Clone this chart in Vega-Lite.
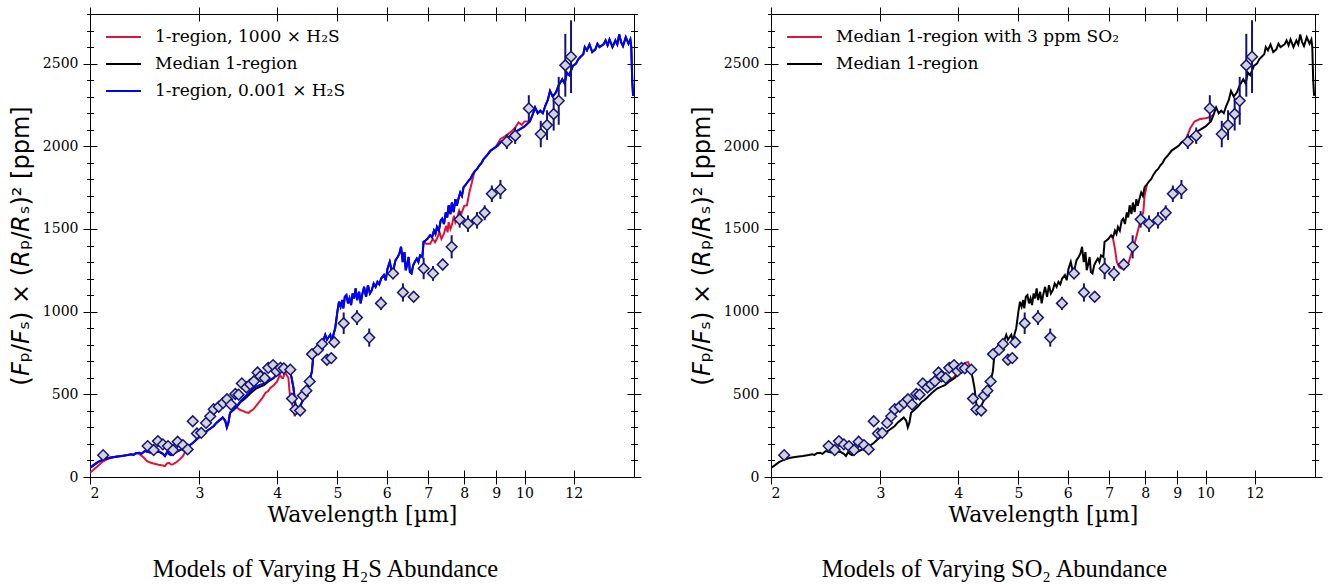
{
  "$schema": "https://vega.github.io/schema/vega-lite/v6.json",
  "background": "white",
  "padding": {"left": 8, "top": 6, "right": 5, "bottom": 5},
  "spacing": 47,
  "config": {
    "view": {"stroke": "black", "strokeWidth": 1},
    "axis": {"domain": false, "grid": false, "tickColor": "black", "tickWidth": 1, "labelFont": "DejaVu Serif", "labelFontSize": 14, "labelColor": "black", "titleColor": "black", "titleFontWeight": "normal"},
    "legend": {"orient": "top-left", "offset": 15, "padding": 0, "title": null, "symbolType": "stroke", "symbolSize": 1225, "symbolStrokeWidth": 2, "labelFont": "DejaVu Serif", "labelFontSize": 17, "labelColor": "black", "labelOffset": 13, "rowPadding": 10, "clipHeight": 16, "labelLimit": 500},
    "title": {"font": "Liberation Serif", "fontSize": 24.5, "fontWeight": "normal", "color": "black", "orient": "bottom", "offset": 33, "frame": "bounds", "anchor": "middle"}
  },
  "datasets": {
    "median": [
      {"w":2.0,"f":55},{"w":2.03,"f":72},{"w":2.06,"f":90},{"w":2.1,"f":105},{"w":2.15,"f":116},{"w":2.2,"f":122},{"w":2.25,"f":127},{"w":2.3,"f":133},{"w":2.33,"f":138},{"w":2.35,"f":134},{"w":2.37,"f":144},{"w":2.4,"f":147},{"w":2.42,"f":140},{"w":2.45,"f":157},{"w":2.49,"f":150},{"w":2.53,"f":146},{"w":2.56,"f":152},{"w":2.59,"f":151},{"w":2.62,"f":140},{"w":2.64,"f":127},{"w":2.66,"f":150},{"w":2.68,"f":140},{"w":2.7,"f":132},{"w":2.72,"f":137},{"w":2.75,"f":150},{"w":2.79,"f":163},{"w":2.82,"f":170},{"w":2.86,"f":177},{"w":2.9,"f":195},{"w":2.93,"f":207},{"w":2.97,"f":228},{"w":3.01,"f":247},{"w":3.05,"f":262},{"w":3.08,"f":277},{"w":3.12,"f":292},{"w":3.16,"f":307},{"w":3.2,"f":330},{"w":3.24,"f":347},{"w":3.27,"f":360},{"w":3.3,"f":340},{"w":3.32,"f":300},{"w":3.34,"f":330},{"w":3.36,"f":388},{"w":3.4,"f":405},{"w":3.45,"f":428},{"w":3.49,"f":452},{"w":3.53,"f":466},{"w":3.57,"f":482},{"w":3.62,"f":505},{"w":3.66,"f":520},{"w":3.7,"f":535},{"w":3.75,"f":545},{"w":3.81,"f":556},{"w":3.88,"f":580},{"w":3.95,"f":598},{"w":4.0,"f":625},{"w":4.04,"f":655},{"w":4.08,"f":665},{"w":4.11,"f":673},{"w":4.15,"f":662},{"w":4.19,"f":649},{"w":4.22,"f":600},{"w":4.25,"f":538},{"w":4.28,"f":440},{"w":4.3,"f":418},{"w":4.33,"f":420},{"w":4.36,"f":432},{"w":4.4,"f":465},{"w":4.43,"f":495},{"w":4.46,"f":518},{"w":4.5,"f":570},{"w":4.53,"f":610},{"w":4.55,"f":640},{"w":4.58,"f":759},{"w":4.61,"f":740},{"w":4.64,"f":779},{"w":4.67,"f":760},{"w":4.69,"f":819},{"w":4.72,"f":790},{"w":4.75,"f":830},{"w":4.78,"f":860},{"w":4.81,"f":830},{"w":4.84,"f":845},{"w":4.87,"f":860},{"w":4.9,"f":820},{"w":4.93,"f":865},{"w":4.96,"f":900},{"w":5.0,"f":1000},{"w":5.03,"f":1060},{"w":5.06,"f":1030},{"w":5.09,"f":1070},{"w":5.11,"f":1020},{"w":5.14,"f":1090},{"w":5.17,"f":1100},{"w":5.2,"f":1050},{"w":5.23,"f":1080},{"w":5.26,"f":1040},{"w":5.29,"f":1110},{"w":5.32,"f":1080},{"w":5.35,"f":1140},{"w":5.38,"f":1070},{"w":5.42,"f":1120},{"w":5.45,"f":1050},{"w":5.48,"f":1100},{"w":5.52,"f":1150},{"w":5.56,"f":1090},{"w":5.6,"f":1160},{"w":5.64,"f":1110},{"w":5.68,"f":1130},{"w":5.72,"f":1170},{"w":5.76,"f":1150},{"w":5.8,"f":1180},{"w":5.84,"f":1165},{"w":5.88,"f":1200},{"w":5.94,"f":1221},{"w":5.98,"f":1190},{"w":6.02,"f":1260},{"w":6.07,"f":1301},{"w":6.11,"f":1250},{"w":6.16,"f":1261},{"w":6.2,"f":1310},{"w":6.25,"f":1330},{"w":6.29,"f":1350},{"w":6.33,"f":1392},{"w":6.37,"f":1300},{"w":6.41,"f":1360},{"w":6.44,"f":1250},{"w":6.47,"f":1281},{"w":6.51,"f":1330},{"w":6.54,"f":1240},{"w":6.58,"f":1231},{"w":6.62,"f":1280},{"w":6.66,"f":1300},{"w":6.71,"f":1321},{"w":6.75,"f":1300},{"w":6.79,"f":1340},{"w":6.85,"f":1331},{"w":6.88,"f":1422},{"w":6.93,"f":1430},{"w":6.98,"f":1440},{"w":7.05,"f":1462},{"w":7.1,"f":1450},{"w":7.15,"f":1490},{"w":7.19,"f":1470},{"w":7.23,"f":1512},{"w":7.28,"f":1490},{"w":7.33,"f":1550},{"w":7.37,"f":1562},{"w":7.42,"f":1530},{"w":7.47,"f":1600},{"w":7.51,"f":1570},{"w":7.55,"f":1643},{"w":7.6,"f":1590},{"w":7.64,"f":1660},{"w":7.69,"f":1602},{"w":7.74,"f":1680},{"w":7.78,"f":1640},{"w":7.83,"f":1683},{"w":7.88,"f":1720},{"w":7.93,"f":1700},{"w":7.98,"f":1753},{"w":8.05,"f":1770},{"w":8.12,"f":1790},{"w":8.18,"f":1803},{"w":8.25,"f":1830},{"w":8.32,"f":1850},{"w":8.39,"f":1863},{"w":8.46,"f":1885},{"w":8.53,"f":1900},{"w":8.6,"f":1924},{"w":8.7,"f":1945},{"w":8.82,"f":1974},{"w":8.95,"f":1990},{"w":9.06,"f":2004},{"w":9.15,"f":2024},{"w":9.3,"f":2040},{"w":9.49,"f":2064},{"w":9.65,"f":2085},{"w":9.84,"f":2104},{"w":10.0,"f":2120},{"w":10.2,"f":2150},{"w":10.3,"f":2190},{"w":10.4,"f":2235},{"w":10.5,"f":2200},{"w":10.6,"f":2215},{"w":10.7,"f":2200},{"w":10.8,"f":2245},{"w":10.9,"f":2280},{"w":10.99,"f":2335},{"w":11.1,"f":2300},{"w":11.23,"f":2325},{"w":11.35,"f":2370},{"w":11.5,"f":2405},{"w":11.6,"f":2380},{"w":11.7,"f":2445},{"w":11.8,"f":2430},{"w":11.96,"f":2486},{"w":12.1,"f":2500},{"w":12.2,"f":2526},{"w":12.3,"f":2540},{"w":12.43,"f":2556},{"w":12.5,"f":2600},{"w":12.6,"f":2580},{"w":12.72,"f":2616},{"w":12.85,"f":2570},{"w":13.0,"f":2586},{"w":13.1,"f":2620},{"w":13.2,"f":2600},{"w":13.4,"f":2616},{"w":13.5,"f":2640},{"w":13.6,"f":2610},{"w":13.7,"f":2646},{"w":13.85,"f":2600},{"w":14.0,"f":2640},{"w":14.1,"f":2616},{"w":14.2,"f":2676},{"w":14.3,"f":2630},{"w":14.4,"f":2606},{"w":14.55,"f":2660},{"w":14.7,"f":2620},{"w":14.8,"f":2646},{"w":14.85,"f":2600},{"w":14.9,"f":2400},{"w":14.95,"f":2305}
    ],
    "h2s_lo": [
      {"w":2.0,"f":58},{"w":2.03,"f":75},{"w":2.06,"f":92},{"w":2.1,"f":106},{"w":2.15,"f":116},{"w":2.2,"f":122},{"w":2.25,"f":127},{"w":2.3,"f":133},{"w":2.33,"f":138},{"w":2.35,"f":134},{"w":2.37,"f":144},{"w":2.4,"f":147},{"w":2.42,"f":140},{"w":2.45,"f":157},{"w":2.49,"f":150},{"w":2.53,"f":146},{"w":2.56,"f":152},{"w":2.59,"f":151},{"w":2.62,"f":140},{"w":2.64,"f":127},{"w":2.66,"f":150},{"w":2.68,"f":140},{"w":2.7,"f":132},{"w":2.72,"f":137},{"w":2.75,"f":150},{"w":2.79,"f":163},{"w":2.82,"f":170},{"w":2.86,"f":177},{"w":2.9,"f":195},{"w":2.93,"f":207},{"w":2.97,"f":228},{"w":3.01,"f":247},{"w":3.05,"f":262},{"w":3.08,"f":277},{"w":3.12,"f":292},{"w":3.16,"f":307},{"w":3.2,"f":330},{"w":3.24,"f":347},{"w":3.27,"f":360},{"w":3.3,"f":340},{"w":3.32,"f":300},{"w":3.34,"f":330},{"w":3.36,"f":388},{"w":3.4,"f":405},{"w":3.45,"f":430},{"w":3.49,"f":458},{"w":3.53,"f":476},{"w":3.57,"f":494},{"w":3.62,"f":518},{"w":3.66,"f":535},{"w":3.7,"f":548},{"w":3.75,"f":557},{"w":3.81,"f":566},{"w":3.88,"f":584},{"w":3.95,"f":600},{"w":4.0,"f":625},{"w":4.04,"f":655},{"w":4.08,"f":665},{"w":4.11,"f":673},{"w":4.15,"f":662},{"w":4.19,"f":649},{"w":4.22,"f":600},{"w":4.25,"f":538},{"w":4.28,"f":440},{"w":4.3,"f":418},{"w":4.33,"f":420},{"w":4.36,"f":432},{"w":4.4,"f":465},{"w":4.43,"f":495},{"w":4.46,"f":518},{"w":4.5,"f":570},{"w":4.53,"f":610},{"w":4.55,"f":640},{"w":4.58,"f":759},{"w":4.61,"f":740},{"w":4.64,"f":779},{"w":4.67,"f":760},{"w":4.69,"f":819},{"w":4.72,"f":790},{"w":4.75,"f":830},{"w":4.78,"f":860},{"w":4.81,"f":830},{"w":4.84,"f":845},{"w":4.87,"f":860},{"w":4.9,"f":820},{"w":4.93,"f":865},{"w":4.96,"f":900},{"w":5.0,"f":1000},{"w":5.03,"f":1060},{"w":5.06,"f":1030},{"w":5.09,"f":1070},{"w":5.11,"f":1020},{"w":5.14,"f":1090},{"w":5.17,"f":1100},{"w":5.2,"f":1050},{"w":5.23,"f":1080},{"w":5.26,"f":1040},{"w":5.29,"f":1110},{"w":5.32,"f":1080},{"w":5.35,"f":1140},{"w":5.38,"f":1070},{"w":5.42,"f":1120},{"w":5.45,"f":1050},{"w":5.48,"f":1100},{"w":5.52,"f":1150},{"w":5.56,"f":1090},{"w":5.6,"f":1160},{"w":5.64,"f":1110},{"w":5.68,"f":1130},{"w":5.72,"f":1170},{"w":5.76,"f":1150},{"w":5.8,"f":1180},{"w":5.84,"f":1165},{"w":5.88,"f":1200},{"w":5.94,"f":1221},{"w":5.98,"f":1190},{"w":6.02,"f":1260},{"w":6.07,"f":1301},{"w":6.11,"f":1250},{"w":6.16,"f":1261},{"w":6.2,"f":1310},{"w":6.25,"f":1330},{"w":6.29,"f":1350},{"w":6.33,"f":1392},{"w":6.37,"f":1300},{"w":6.41,"f":1360},{"w":6.44,"f":1250},{"w":6.47,"f":1281},{"w":6.51,"f":1330},{"w":6.54,"f":1240},{"w":6.58,"f":1231},{"w":6.62,"f":1280},{"w":6.66,"f":1300},{"w":6.71,"f":1321},{"w":6.75,"f":1300},{"w":6.79,"f":1340},{"w":6.85,"f":1331},{"w":6.88,"f":1422},{"w":6.93,"f":1430},{"w":6.98,"f":1440},{"w":7.05,"f":1462},{"w":7.1,"f":1450},{"w":7.15,"f":1490},{"w":7.19,"f":1470},{"w":7.23,"f":1512},{"w":7.28,"f":1490},{"w":7.33,"f":1550},{"w":7.37,"f":1562},{"w":7.42,"f":1530},{"w":7.47,"f":1600},{"w":7.51,"f":1570},{"w":7.55,"f":1643},{"w":7.6,"f":1590},{"w":7.64,"f":1660},{"w":7.69,"f":1602},{"w":7.74,"f":1680},{"w":7.78,"f":1640},{"w":7.83,"f":1683},{"w":7.88,"f":1720},{"w":7.93,"f":1700},{"w":7.98,"f":1753},{"w":8.05,"f":1770},{"w":8.12,"f":1790},{"w":8.18,"f":1803},{"w":8.25,"f":1830},{"w":8.32,"f":1850},{"w":8.39,"f":1863},{"w":8.46,"f":1885},{"w":8.53,"f":1900},{"w":8.6,"f":1924},{"w":8.7,"f":1945},{"w":8.82,"f":1974},{"w":8.95,"f":1990},{"w":9.06,"f":2004},{"w":9.15,"f":2024},{"w":9.3,"f":2040},{"w":9.49,"f":2064},{"w":9.65,"f":2085},{"w":9.84,"f":2104},{"w":10.0,"f":2120},{"w":10.2,"f":2150},{"w":10.3,"f":2190},{"w":10.4,"f":2235},{"w":10.5,"f":2200},{"w":10.6,"f":2215},{"w":10.7,"f":2200},{"w":10.8,"f":2245},{"w":10.9,"f":2280},{"w":10.99,"f":2335},{"w":11.1,"f":2300},{"w":11.23,"f":2325},{"w":11.35,"f":2370},{"w":11.5,"f":2405},{"w":11.6,"f":2380},{"w":11.7,"f":2445},{"w":11.8,"f":2430},{"w":11.96,"f":2486},{"w":12.1,"f":2500},{"w":12.2,"f":2526},{"w":12.3,"f":2540},{"w":12.43,"f":2556},{"w":12.5,"f":2600},{"w":12.6,"f":2580},{"w":12.72,"f":2616},{"w":12.85,"f":2570},{"w":13.0,"f":2586},{"w":13.1,"f":2620},{"w":13.2,"f":2600},{"w":13.4,"f":2616},{"w":13.5,"f":2640},{"w":13.6,"f":2610},{"w":13.7,"f":2646},{"w":13.85,"f":2600},{"w":14.0,"f":2640},{"w":14.1,"f":2616},{"w":14.2,"f":2676},{"w":14.3,"f":2630},{"w":14.4,"f":2606},{"w":14.55,"f":2660},{"w":14.7,"f":2620},{"w":14.8,"f":2646},{"w":14.85,"f":2600},{"w":14.9,"f":2400},{"w":14.95,"f":2305}
    ],
    "h2s_hi": [
      {"s":1,"w":2.0,"f":26},{"s":1,"w":2.05,"f":60},{"s":1,"w":2.1,"f":95},{"s":1,"w":2.13,"f":107},{"s":1,"w":2.17,"f":118},{"s":1,"w":2.22,"f":124},
      {"s":2,"w":2.37,"f":144},{"s":2,"w":2.4,"f":140},{"s":2,"w":2.44,"f":118},{"s":2,"w":2.47,"f":96},{"s":2,"w":2.5,"f":88},{"s":2,"w":2.53,"f":82},{"s":2,"w":2.56,"f":77},{"s":2,"w":2.59,"f":72},{"s":2,"w":2.62,"f":70},{"s":2,"w":2.64,"f":66},{"s":2,"w":2.66,"f":82},{"s":2,"w":2.68,"f":86},{"s":2,"w":2.7,"f":76},{"s":2,"w":2.72,"f":77},{"s":2,"w":2.75,"f":88},{"s":2,"w":2.79,"f":107},{"s":2,"w":2.82,"f":125},{"s":2,"w":2.84,"f":147},{"s":2,"w":2.87,"f":180},
      {"s":3,"w":3.4,"f":405},{"s":3,"w":3.43,"f":420},{"s":3,"w":3.45,"f":418},{"s":3,"w":3.49,"f":405},{"s":3,"w":3.53,"f":398},{"s":3,"w":3.56,"f":392},{"s":3,"w":3.6,"f":388},{"s":3,"w":3.63,"f":400},{"s":3,"w":3.66,"f":408},{"s":3,"w":3.7,"f":430},{"s":3,"w":3.75,"f":458},{"s":3,"w":3.79,"f":480},{"s":3,"w":3.83,"f":508},{"s":3,"w":3.87,"f":520},{"s":3,"w":3.9,"f":538},{"s":3,"w":3.95,"f":555},{"s":3,"w":4.0,"f":578},{"s":3,"w":4.04,"f":618},{"s":3,"w":4.07,"f":600},{"s":3,"w":4.09,"f":598},{"s":3,"w":4.12,"f":640},{"s":3,"w":4.14,"f":618},{"s":3,"w":4.17,"f":600},{"s":3,"w":4.19,"f":508},{"s":3,"w":4.23,"f":440},{"s":3,"w":4.27,"f":367},{"s":3,"w":4.3,"f":418},
      {"s":4,"w":6.88,"f":1422},{"s":4,"w":6.95,"f":1410},{"s":4,"w":7.05,"f":1411},{"s":4,"w":7.12,"f":1440},{"s":4,"w":7.18,"f":1420},{"s":4,"w":7.23,"f":1442},{"s":4,"w":7.3,"f":1480},{"s":4,"w":7.35,"f":1440},{"s":4,"w":7.42,"f":1472},{"s":4,"w":7.48,"f":1520},{"s":4,"w":7.52,"f":1480},{"s":4,"w":7.55,"f":1542},{"s":4,"w":7.6,"f":1500},{"s":4,"w":7.64,"f":1522},{"s":4,"w":7.7,"f":1580},{"s":4,"w":7.74,"f":1540},{"s":4,"w":7.78,"f":1562},{"s":4,"w":7.85,"f":1610},{"s":4,"w":7.9,"f":1580},{"s":4,"w":7.93,"f":1602},{"s":4,"w":8.0,"f":1640},{"s":4,"w":8.08,"f":1643},{"s":4,"w":8.15,"f":1720},{"s":4,"w":8.23,"f":1783},{"s":4,"w":8.3,"f":1845},
      {"s":5,"w":9.0,"f":2000},{"s":5,"w":9.15,"f":2044},{"s":5,"w":9.3,"f":2060},{"s":5,"w":9.49,"f":2084},{"s":5,"w":9.65,"f":2110},{"s":5,"w":9.78,"f":2144},{"s":5,"w":9.9,"f":2130},{"s":5,"w":10.0,"f":2150},{"s":5,"w":10.15,"f":2150}
    ],
    "so2": [
      {"s":1,"w":3.88,"f":582},{"s":1,"w":3.95,"f":610},{"s":1,"w":4.0,"f":640},{"s":1,"w":4.05,"f":668},{"s":1,"w":4.1,"f":690},{"s":1,"w":4.15,"f":695},{"s":1,"w":4.19,"f":660},
      {"s":2,"w":7.05,"f":1462},{"s":2,"w":7.1,"f":1440},{"s":2,"w":7.15,"f":1380},{"s":2,"w":7.2,"f":1300},{"s":2,"w":7.26,"f":1270},{"s":2,"w":7.32,"f":1262},{"s":2,"w":7.4,"f":1290},{"s":2,"w":7.46,"f":1275},{"s":2,"w":7.52,"f":1295},{"s":2,"w":7.58,"f":1340},{"s":2,"w":7.64,"f":1380},{"s":2,"w":7.7,"f":1420},{"s":2,"w":7.76,"f":1470},{"s":2,"w":7.82,"f":1520},{"s":2,"w":7.88,"f":1570},{"s":2,"w":7.94,"f":1600},{"s":2,"w":7.98,"f":1700},{"s":2,"w":8.05,"f":1770},
      {"s":3,"w":9.3,"f":2040},{"s":3,"w":9.45,"f":2110},{"s":3,"w":9.6,"f":2150},{"s":3,"w":9.8,"f":2165},{"s":3,"w":10.0,"f":2170},{"s":3,"w":10.15,"f":2175},{"s":3,"w":10.3,"f":2190}
    ],
    "obs": [
      {"w":2.1,"f":132,"e":15},{"w":2.476,"f":187,"e":15},{"w":2.532,"f":163,"e":15},{"w":2.572,"f":217,"e":15},{"w":2.62,"f":197,"e":15},{"w":2.67,"f":187,"e":15},{"w":2.72,"f":163,"e":15},{"w":2.767,"f":213,"e":15},{"w":2.822,"f":193,"e":15},{"w":2.872,"f":167,"e":15},{"w":2.926,"f":337,"e":15},{"w":2.972,"f":263,"e":15},{"w":3.02,"f":267,"e":15},{"w":3.074,"f":327,"e":15},{"w":3.122,"f":367,"e":15},{"w":3.162,"f":410,"e":15},{"w":3.222,"f":425,"e":15},{"w":3.274,"f":448,"e":15},{"w":3.322,"f":470,"e":15},{"w":3.372,"f":438,"e":15},{"w":3.426,"f":502,"e":15},{"w":3.468,"f":498,"e":15},{"w":3.51,"f":566,"e":15},{"w":3.57,"f":541,"e":15},{"w":3.62,"f":560,"e":15},{"w":3.67,"f":579,"e":15},{"w":3.72,"f":632,"e":15},{"w":3.76,"f":609,"e":15},{"w":3.82,"f":598,"e":15},{"w":3.87,"f":660,"e":15},{"w":3.94,"f":677,"e":15},{"w":3.99,"f":640,"e":15},{"w":4.05,"f":660,"e":15},{"w":4.1,"f":657,"e":15},{"w":4.2,"f":649,"e":15},{"w":4.226,"f":474,"e":20},{"w":4.28,"f":408,"e":20},{"w":4.356,"f":402,"e":20},{"w":4.4,"f":492,"e":20},{"w":4.458,"f":522,"e":20},{"w":4.512,"f":578,"e":20},{"w":4.552,"f":743,"e":20},{"w":4.655,"f":770,"e":20},{"w":4.724,"f":805,"e":20},{"w":4.81,"f":709,"e":25},{"w":4.888,"f":719,"e":25},{"w":4.942,"f":815,"e":25},{"w":5.118,"f":930,"e":65},{"w":5.376,"f":964,"e":45},{"w":5.626,"f":843,"e":55},{"w":5.876,"f":1050,"e":40},{"w":6.144,"f":1231,"e":35},{"w":6.374,"f":1116,"e":55},{"w":6.632,"f":1090,"e":30},{"w":6.882,"f":1261,"e":65},{"w":7.124,"f":1231,"e":45},{"w":7.386,"f":1285,"e":35},{"w":7.634,"f":1392,"e":70},{"w":7.864,"f":1558,"e":50},{"w":8.11,"f":1532,"e":50},{"w":8.386,"f":1552,"e":50},{"w":8.628,"f":1598,"e":45},{"w":8.86,"f":1713,"e":50},{"w":9.146,"f":1739,"e":58},{"w":9.364,"f":2028,"e":45},{"w":9.66,"f":2064,"e":50},{"w":10.16,"f":2229,"e":80},{"w":10.62,"f":2074,"e":80},{"w":10.87,"f":2128,"e":90},{"w":11.14,"f":2195,"e":100},{"w":11.35,"f":2275,"e":145},{"w":11.63,"f":2490,"e":190},{"w":11.88,"f":2542,"e":220}
    ]
  },
  "hconcat": [
    {
      "width": 544,
      "height": 463,
      "title": {"text": "Models of Varying H₂S Abundance"},
      "layer": [
        {
          "data": {"name": "h2s_hi"},
          "mark": {"type": "line", "strokeWidth": 2, "clip": true},
          "encoding": {
            "x": {"field": "w", "type": "quantitative", "scale": {"type": "log", "domain": [2, 15], "nice": false},
              "axis": {"orient": "bottom", "values": [2,3,4,5,6,7,8,9,10,12], "format": "d", "tickSize": 14, "offset": -7, "labelPadding": 2, "title": "Wavelength [µm]", "titleFont": "DejaVu Serif", "titleFontSize": 22, "titlePadding": 4}},
            "y": {"field": "f", "type": "quantitative", "scale": {"domain": [0, 2800], "nice": false, "zero": true},
              "axis": {"orient": "left", "values": [0,500,1000,1500,2000,2500], "format": "d", "tickSize": 14, "offset": -7, "labelPadding": 5, "title": "(𝘍ₚ/𝘍ₛ) × (𝘙ₚ/𝘙ₛ)² [ppm]", "titleFont": "DejaVu Sans", "titleFontSize": 24, "titlePadding": 9}},
            "detail": {"field": "s", "type": "nominal"},
            "color": {"datum": "1-region, 1000 × H₂S", "scale": {"domain": ["1-region, 1000 × H₂S", "Median 1-region", "1-region, 0.001 × H₂S"], "range": ["#dc143c", "#000000", "#0000ff"]}}
          }
        },
        {
          "data": {"name": "median"},
          "mark": {"type": "line", "strokeWidth": 2, "clip": true},
          "encoding": {
            "x": {"field": "w", "type": "quantitative", "scale": {"type": "log", "domain": [2, 15], "nice": false},
              "axis": {"orient": "top", "values": [2,3,4,5,6,7,8,9,10,12], "tickSize": 14, "offset": -7, "labels": false, "title": null}},
            "y": {"field": "f", "type": "quantitative", "scale": {"domain": [0, 2800], "nice": false},
              "axis": {"orient": "left", "values": [100,200,300,400,600,700,800,900,1100,1200,1300,1400,1600,1700,1800,1900,2100,2200,2300,2400,2600,2700,2800], "tickSize": 7, "offset": -3.5, "labels": false, "title": null}},
            "color": {"datum": "Median 1-region", "scale": {"domain": ["1-region, 1000 × H₂S", "Median 1-region", "1-region, 0.001 × H₂S"], "range": ["#dc143c", "#000000", "#0000ff"]}}
          }
        },
        {
          "data": {"name": "h2s_lo"},
          "mark": {"type": "line", "strokeWidth": 2, "clip": true},
          "encoding": {
            "x": {"field": "w", "type": "quantitative", "scale": {"type": "log", "domain": [2, 15], "nice": false}, "axis": null},
            "y": {"field": "f", "type": "quantitative", "scale": {"domain": [0, 2800], "nice": false},
              "axis": {"orient": "right", "values": [0,500,1000,1500,2000,2500], "tickSize": 14, "offset": -7, "labels": false, "title": null}},
            "color": {"datum": "1-region, 0.001 × H₂S", "scale": {"domain": ["1-region, 1000 × H₂S", "Median 1-region", "1-region, 0.001 × H₂S"], "range": ["#dc143c", "#000000", "#0000ff"]}}
          }
        },
        {
          "data": {"name": "obs"},
          "mark": {"type": "errorbar", "ticks": false, "color": "#141478", "thickness": 2},
          "encoding": {
            "x": {"field": "w", "type": "quantitative", "scale": {"type": "log", "domain": [2, 15], "nice": false}, "axis": null},
            "y": {"field": "f", "type": "quantitative", "scale": {"domain": [0, 2800], "nice": false}, "axis": null},
            "yError": {"field": "e"}
          }
        },
        {
          "data": {"name": "obs"},
          "mark": {"type": "point", "shape": "diamond", "filled": true, "fill": "#d3d3d8", "stroke": "#141478", "strokeWidth": 1.5, "size": 115, "opacity": 1},
          "encoding": {
            "x": {"field": "w", "type": "quantitative", "scale": {"type": "log", "domain": [2, 15], "nice": false}, "axis": null},
            "y": {"field": "f", "type": "quantitative", "scale": {"domain": [0, 2800], "nice": false},
              "axis": {"orient": "right", "values": [100,200,300,400,600,700,800,900,1100,1200,1300,1400,1600,1700,1800,1900,2100,2200,2300,2400,2600,2700,2800], "tickSize": 7, "offset": -3.5, "labels": false, "title": null}}
          }
        }
      ],
      "resolve": {"axis": {"x": "independent", "y": "independent"}}
    },
    {
      "width": 544,
      "height": 463,
      "title": {"text": "Models of Varying SO₂ Abundance", "dx": -12},
      "layer": [
        {
          "data": {"name": "so2"},
          "mark": {"type": "line", "strokeWidth": 2, "clip": true},
          "encoding": {
            "x": {"field": "w", "type": "quantitative", "scale": {"type": "log", "domain": [2, 15], "nice": false},
              "axis": {"orient": "bottom", "values": [2,3,4,5,6,7,8,9,10,12], "format": "d", "tickSize": 14, "offset": -7, "labelPadding": 2, "title": "Wavelength [µm]", "titleFont": "DejaVu Serif", "titleFontSize": 22, "titlePadding": 4}},
            "y": {"field": "f", "type": "quantitative", "scale": {"domain": [0, 2800], "nice": false},
              "axis": {"orient": "left", "values": [0,500,1000,1500,2000,2500], "format": "d", "tickSize": 14, "offset": -7, "labelPadding": 5, "title": "(𝘍ₚ/𝘍ₛ) × (𝘙ₚ/𝘙ₛ)² [ppm]", "titleFont": "DejaVu Sans", "titleFontSize": 24, "titlePadding": 9}},
            "detail": {"field": "s", "type": "nominal"},
            "color": {"datum": "Median 1-region with 3 ppm SO₂", "scale": {"domain": ["Median 1-region with 3 ppm SO₂", "Median 1-region"], "range": ["#dc143c", "#000000"]}}
          }
        },
        {
          "data": {"name": "median"},
          "mark": {"type": "line", "strokeWidth": 2, "clip": true},
          "encoding": {
            "x": {"field": "w", "type": "quantitative", "scale": {"type": "log", "domain": [2, 15], "nice": false},
              "axis": {"orient": "top", "values": [2,3,4,5,6,7,8,9,10,12], "tickSize": 14, "offset": -7, "labels": false, "title": null}},
            "y": {"field": "f", "type": "quantitative", "scale": {"domain": [0, 2800], "nice": false},
              "axis": {"orient": "left", "values": [100,200,300,400,600,700,800,900,1100,1200,1300,1400,1600,1700,1800,1900,2100,2200,2300,2400,2600,2700,2800], "tickSize": 7, "offset": -3.5, "labels": false, "title": null}},
            "color": {"datum": "Median 1-region", "scale": {"domain": ["Median 1-region with 3 ppm SO₂", "Median 1-region"], "range": ["#dc143c", "#000000"]}}
          }
        },
        {
          "data": {"name": "obs"},
          "mark": {"type": "errorbar", "ticks": false, "color": "#141478", "thickness": 2},
          "encoding": {
            "x": {"field": "w", "type": "quantitative", "scale": {"type": "log", "domain": [2, 15], "nice": false}, "axis": null},
            "y": {"field": "f", "type": "quantitative", "scale": {"domain": [0, 2800], "nice": false},
              "axis": {"orient": "right", "values": [0,500,1000,1500,2000,2500], "tickSize": 14, "offset": -7, "labels": false, "title": null}},
            "yError": {"field": "e"}
          }
        },
        {
          "data": {"name": "obs"},
          "mark": {"type": "point", "shape": "diamond", "filled": true, "fill": "#d3d3d8", "stroke": "#141478", "strokeWidth": 1.5, "size": 115, "opacity": 1},
          "encoding": {
            "x": {"field": "w", "type": "quantitative", "scale": {"type": "log", "domain": [2, 15], "nice": false}, "axis": null},
            "y": {"field": "f", "type": "quantitative", "scale": {"domain": [0, 2800], "nice": false},
              "axis": {"orient": "right", "values": [100,200,300,400,600,700,800,900,1100,1200,1300,1400,1600,1700,1800,1900,2100,2200,2300,2400,2600,2700,2800], "tickSize": 7, "offset": -3.5, "labels": false, "title": null}}
          }
        }
      ],
      "resolve": {"axis": {"x": "independent", "y": "independent"}}
    }
  ],
  "resolve": {"scale": {"x": "independent", "y": "independent", "color": "independent"}, "legend": {"color": "independent"}}
}
